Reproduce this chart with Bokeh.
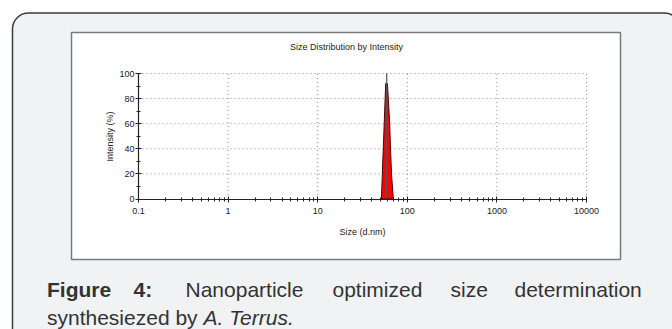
import math
from bokeh.plotting import figure
from bokeh.models import (Range1d, LogAxis, LinearAxis, FixedTicker, CustomJSTickFormatter,
                          LinearScale, LogScale, ColumnDataSource)
from bokeh.core.properties import value
from bokeh.embed import file_html
from bokeh.resources import INLINE

# ---- data ----
chart_title = "Size Distribution by Intensity"
x_label = "Size (d.nm)"
y_label = "Intensity (%)"
x_ticks = [0.1, 1, 10, 100, 1000, 10000]
x_minor = [m * d for d in [0.1, 1, 10, 100, 1000] for m in range(2, 10)]
y_ticks = [0, 20, 40, 60, 80, 100]
y_minor = [10, 30, 50, 70, 90]
size_nm = [51.4, 57.4, 60.0, 61.6, 63.6, 65.2, 66.9, 69.9]
intensity_pct = [0, 92, 92, 78, 60, 37, 18, 0]
peak_size = [58.9, 58.9]
peak_int = [0, 100]
caption_label = ["Figure", "4:"]
caption_words = ["Nanoparticle", "optimized", "size", "determination"]
caption_line2 = "synthesiezed by"
caption_italic = "A. Terrus."

# ---- layout (pixels) ----
W, H = 672, 329
PL, PR, PT, PB = 138.0, 586.0, 73.0, 198.5   # plot area edges
xmin, xmax = x_ticks[0], x_ticks[-1]
ymin, ymax = y_ticks[0], y_ticks[-1]
ppd = (PR - PL) / (math.log10(xmax) - math.log10(xmin))
lx0 = math.log10(xmin) - PL / ppd
lx1 = math.log10(xmax) + (W - PR) / ppd
ppu = (PB - PT) / (ymax - ymin)
y_top = ymax + PT / ppu
y_bot = ymin - (H - PB) / ppu

p = figure(width=W, height=H, x_axis_type=None, y_axis_type=None,
           x_range=Range1d(10 ** lx0, 10 ** lx1), y_range=Range1d(y_bot, y_top),
           x_axis_location=None, y_axis_location=None,
           output_backend="svg", toolbar_location=None,
           min_border=0, min_border_left=0, min_border_right=0, min_border_top=0, min_border_bottom=0)
p.x_scale = LogScale()
p.y_scale = LinearScale()
p.extra_x_ranges = {"sx": Range1d(0, W)}
p.extra_y_ranges = {"sy": Range1d(H, 0)}
p.extra_x_scales = {"sx": LinearScale()}
p.extra_y_scales = {"sy": LinearScale()}
p.outline_line_color = None
p.border_fill_color = "white"
p.background_fill_color = "white"

S = dict(x_range_name="sx", y_range_name="sy")

# panels
p.quad(left=12, right=W + 8, top=12.5, bottom=H + 16, fill_color="#f1f2f4",
       line_color="#3a3a3a", line_width=1.5, border_radius=16, **S)
p.quad(left=71, right=620, top=32, bottom=259, fill_color="white",
       line_color="#7a7a7a", line_width=1.5, **S)

# dotted grid from tick values
p.segment(x0=x_ticks[1:], y0=[ymin] * 5, x1=x_ticks[1:], y1=[ymax] * 5,
          line_color="#8a8a8a", line_dash="1 3", line_width=1)
p.segment(x0=[xmin] * 5, y0=y_ticks[1:], x1=[xmax] * 5, y1=y_ticks[1:],
          line_color="#8a8a8a", line_dash="1 3", line_width=1)

# distribution
src = ColumnDataSource(dict(x=size_nm, y=intensity_pct))
p.patch("x", "y", source=src, fill_color="#ff0000", line_color="#5a0000", line_width=1)
p.line(peak_size, peak_int, line_color="#555555", line_width=1.2)

# axes at fixed locations
xaxis = LogAxis(ticker=FixedTicker(ticks=x_ticks, minor_ticks=x_minor),
                formatter=CustomJSTickFormatter(code="return String(tick)"),
                axis_label=x_label, fixed_location=ymin, bounds=(xmin, xmax))
yaxis = LinearAxis(ticker=FixedTicker(ticks=y_ticks, minor_ticks=y_minor),
                   axis_label=y_label, fixed_location=xmin, bounds=(ymin, ymax))
for ax in (xaxis, yaxis):
    ax.axis_line_color = "#222222"
    ax.axis_line_width = 1.2
    ax.major_tick_line_color = "#222222"
    ax.minor_tick_line_color = "#222222"
    ax.major_tick_in = 3
    ax.major_tick_out = 3
    ax.minor_tick_in = 2
    ax.minor_tick_out = 2
    ax.major_label_text_font = "Liberation Sans"
    ax.major_label_text_font_size = "9px"
    ax.major_label_text_color = "#222222"
    ax.axis_label_text_font = "Liberation Sans"
    ax.axis_label_text_font_size = "9px"
    ax.axis_label_text_font_style = "normal"
    ax.axis_label_text_color = "#222222"
xaxis.major_label_standoff = 6
xaxis.axis_label_standoff = 9
yaxis.major_label_standoff = 1
yaxis.axis_label_standoff = 1
p.add_layout(xaxis, "below")
p.add_layout(yaxis, "left")

# chart title
p.text(x=[346], y=[46], text=[chart_title], text_font=value("Liberation Sans"),
       text_font_size="9px", text_color="#222222", text_align="center",
       text_baseline="middle", **S)

# caption
cap_font = value("Liberation Sans")
cap_size = "21px"
cap_color = "#333333"
def cap(xs, y, words, style="normal"):
    p.text(x=xs, y=[y] * len(words), text=words, text_font=cap_font, text_font_size=cap_size,
           text_color=cap_color, text_font_style=style, text_baseline="middle", **S)

cap([46.5, 133], 289, caption_label, "bold")
cap([185, 332, 450, 514], 289, caption_words)
cap([46.5], 317, [caption_line2])
cap([203], 317, [caption_italic], "italic")

open("out.html", "w").write(file_html(p, INLINE))
